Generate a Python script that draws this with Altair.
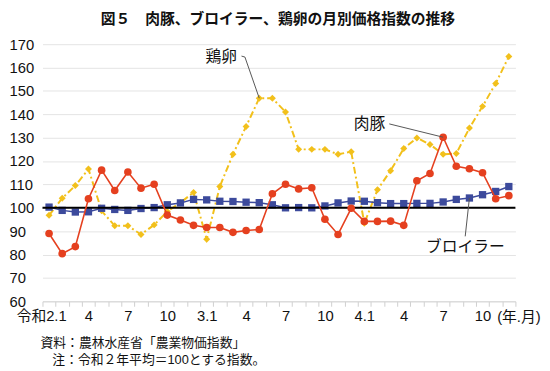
import altair as alt
import pandas as pd

# ---- data ----
months = list(range(36))  # 令和2年1月 .. 令和4年12月
pork = [89, 80.4, 83.4, 103.9, 116.1, 107.4, 115.3, 108.4, 110.1, 96.9, 94.8, 92.5,
        91.6, 91.6, 89.5, 90.3, 90.7, 106, 110.1, 108.1, 108.6, 95.1, 88.6, 99.8,
        94.2, 94.2, 94.3, 92.5, 111.6, 114.7, 130.2, 117.8, 116.7, 115, 103.9, 105.2]
broiler = [100.3, 98.9, 98.2, 98.3, 99.8, 99.3, 98.9, 99.7, 100.1, 101.3, 102.1, 103.6,
           103.4, 102.8, 102.7, 102.4, 102.2, 101.3, 100, 100.1, 100, 100.8, 102.1, 102.9,
           102.8, 102.2, 101.8, 101.8, 101.9, 101.9, 102.5, 103.6, 104.2, 105.6, 107, 109.1]
egg = [96.8, 104.1, 109.5, 116.6, 98.7, 92.3, 92.3, 88.6, 92.7, 98.4, 102.2, 106.6,
       86.6, 109.1, 122.9, 134.8, 146.9, 146.9, 141, 125, 125, 125, 122.9, 124,
       93.4, 107.7, 115.9, 125.4, 129.9, 127.1, 122.9, 123.2, 134.1, 143.4, 153.2, 164.7]

tick_label_text = ['令和2.1', '4', '7', '10', '3.1', '4', '7', '10', '4.1', '4', '7', '10']
tick_label_pos = [0, 3, 6, 9, 12, 15, 18, 21, 24, 27, 30, 33]

title_text = '図５　肉豚、ブロイラー、鶏卵の月別価格指数の推移'
note1 = '資料：農林水産省「農業物価指数」'
note2 = '注：令和２年平均＝100とする指数。'

# annotation labels (data coordinates) and their leader lines
ann_labels = ['鶏卵', '肉豚', 'ブロイラー']
ann_x = [13.1, 24.4, 31.7]
ann_y = [164.3, 135.9, 83.4]
leader_id = ['egg', 'egg', 'egg', 'pork', 'pork', 'broiler', 'broiler']
leader_seq = [0, 1, 2, 0, 1, 0, 1]
leader_x = [14.65, 14.91, 16, 25.9, 30, 31.68, 32]
leader_y = [164.9, 164.5, 146.9, 135.9, 130.2, 87.8, 104.2]

# ---- tables ----
df = pd.DataFrame({'i': months, 'pork': pork, 'broiler': broiler, 'egg': egg})
ann = pd.DataFrame({'i': ann_x, 'v': ann_y, 'label': ann_labels})
lead = pd.DataFrame({'i': leader_x, 'v': leader_y, 'id': leader_id, 'seq': leader_seq})

label_arr = [''] * 37
for p, t in zip(tick_label_pos, tick_label_text):
    label_arr[p] = t
label_expr = '[' + ','.join("'" + s + "'" for s in label_arr) + '][datum.value + 0.5]'

FONT = 'Liberation Sans, Noto Sans CJK JP'
STEP = 480 / 36

x_axis = alt.Axis(
    values=[k - 0.5 for k in range(37)], grid=False, domain=True,
    domainColor='#d4d4d4', tickColor='#cfcfcf', tickSize=5,
    labelExpr=label_expr,
    labelOffset={"condition": {"test": "datum.value < 0", "value": STEP / 2 - 8},
                 "value": STEP / 2},
    labelFontSize=15, labelColor='#111', labelPadding=2, labelOverlap=False,
    labelFlush=False, labelBound=False, labelFont=FONT,
    title='(年.月)', titleX=461, titleY=15, titleAlign='left',
    titleBaseline='middle', titleFontWeight='normal', titleFontSize=15,
    titleAngle=0, titleColor='#111', titleFont=FONT)
y_axis = alt.Axis(
    values=list(range(60, 171, 10)), grid=True, gridColor='#e4e4e4',
    domain=False, ticks=False, tickSize=0, labelAlign='left', labelPadding=34,
    labelFontSize=15, labelColor='#111', labelBaseline='middle', title=None,
    labelFont=FONT)

xs = alt.Scale(domain=[-0.5, 35.5], nice=False, zero=False)
ys = alt.Scale(domain=[60, 170], nice=False, zero=False)


def X(field='i'):
    return alt.X(f'{field}:Q', scale=xs, axis=x_axis)


def Y(field):
    return alt.Y(f'{field}:Q', scale=ys, axis=y_axis)


base = alt.Chart(df)

EGG = '#F2C01B'
PORK = '#E5401F'
BRO = '#3C4A9C'

egg_line = base.mark_line(color=EGG, strokeWidth=2, strokeDash=[7, 3, 2, 3]).encode(x=X(), y=Y('egg'))
egg_pts = base.mark_point(shape='diamond', filled=True, color=EGG, size=50, opacity=1).encode(x=X(), y=Y('egg'))

bro_line = base.mark_line(color=BRO, strokeWidth=1.5).encode(x=X(), y=Y('broiler'))
bro_pts = base.mark_point(shape='square', filled=True, color=BRO, size=55, opacity=1).encode(x=X(), y=Y('broiler'))

ref = alt.Chart(pd.DataFrame({'v': [100]})).mark_rule(color='black', strokeWidth=2).encode(y=Y('v'))

pork_line = base.mark_line(color=PORK, strokeWidth=1.6).encode(x=X(), y=Y('pork'))
pork_pts = base.mark_point(shape='circle', filled=True, color=PORK, size=60, opacity=1).encode(x=X(), y=Y('pork'))

leaders = alt.Chart(lead).mark_line(color='#555', strokeWidth=1).encode(
    x=X(), y=Y('v'), detail='id:N', order='seq:Q')
labels = alt.Chart(ann).mark_text(fontSize=16, font='Noto Sans CJK JP', color='#111',
                                  align='center', baseline='middle').encode(
    x=X(), y=Y('v'), text='label:N')

one = pd.DataFrame({'a': [0]})
title = alt.Chart(one).mark_text(text=title_text, fontSize=15, fontWeight='bold',
                                 font='Noto Sans CJK JP', color='#111',
                                 align='center', baseline='middle').encode(
    x=alt.value(239), y=alt.value(-25))
n1 = alt.Chart(one).mark_text(text=note1, fontSize=13, font=FONT, color='#111',
                              align='left', baseline='middle').encode(
    x=alt.value(-2), y=alt.value(303))
n2 = alt.Chart(one).mark_text(text=note2, fontSize=13, font=FONT, color='#111',
                              align='left', baseline='middle').encode(
    x=alt.value(10), y=alt.value(321))

chart = alt.layer(
    egg_line, egg_pts, bro_line, bro_pts, ref, pork_line, pork_pts,
    leaders, labels, title, n1, n2
).properties(
    width=480, height=261,
    autosize=alt.AutoSizeParams(type='none'),
    padding={'left': 35, 'top': 34, 'right': 27, 'bottom': 68},
    background='white'
).configure_view(stroke=None)

chart.save('out.html', embed_options={'renderer': 'svg', 'actions': False})
